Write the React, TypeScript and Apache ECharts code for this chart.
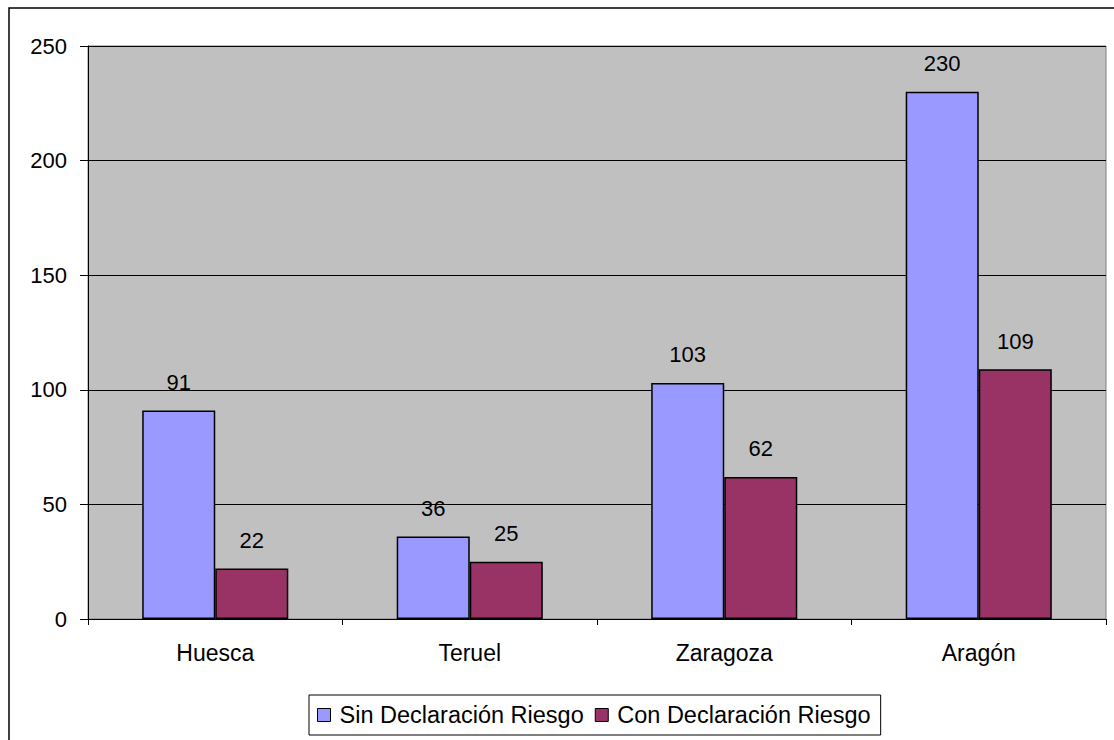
import React, { useEffect, useRef } from "react";
import * as echarts from "echarts";

const categories = ["Huesca", "Teruel", "Zaragoza", "Aragón"];
const sinDeclaracion = [91, 36, 103, 230];
const conDeclaracion = [22, 25, 62, 109];
const seriesNames = ["Sin Declaración Riesgo", "Con Declaración Riesgo"];

const FONT = "'Liberation Sans', Arial, sans-serif";

export default function App() {
  const ref = useRef<HTMLDivElement>(null);
  useEffect(() => {
    document.body.style.margin = "0";
    const chart = echarts.init(ref.current!, null, { renderer: "svg" });
    const label = {
      show: true,
      position: "top",
      distance: 17,
      color: "#000",
      fontSize: 22,
      fontFamily: FONT,
    };
    chart.setOption({
      animation: false,
      backgroundColor: "#fff",
      textStyle: { fontFamily: FONT },
      graphic: [
        {
          type: "rect",
          shape: { x: 9, y: 8, width: 1200, height: 800 },
          style: { fill: "none", stroke: "#000", lineWidth: 1.5 },
          silent: true,
        },
      ],
      grid: {
        left: 88,
        top: 46,
        right: 8,
        bottom: 121,
        show: true,
        backgroundColor: "#C0C0C0",
        borderColor: "#808080",
        borderWidth: 1,
      },
      legend: {
        bottom: 5,
        left: 309,
        data: seriesNames,
        icon: "rect",
        itemWidth: 13,
        itemHeight: 13,
        itemGap: 11,
        borderColor: "#000",
        borderWidth: 1,
        padding: [8, 10, 8, 8],
        itemStyle: { borderColor: "#000", borderWidth: 1 },
        textStyle: { fontSize: 23.5, fontFamily: FONT, color: "#000", padding: [0, 0, 0, 4] },
      },
      xAxis: {
        type: "category",
        data: categories,
        axisLine: { lineStyle: { color: "#000", width: 1 } },
        axisTick: { show: true, length: 6, lineStyle: { color: "#000" } },
        axisLabel: { fontSize: 23, color: "#000", margin: 22, fontFamily: FONT },
      },
      yAxis: {
        type: "value",
        min: 0,
        max: 250,
        interval: 50,
        axisLine: { show: true, lineStyle: { color: "#000", width: 1 } },
        axisTick: { show: true, length: 8, lineStyle: { color: "#000" } },
        axisLabel: { fontSize: 22, color: "#000", margin: 21, fontFamily: FONT },
        splitLine: { show: true, lineStyle: { color: "#000", width: 1 } },
      },
      series: [
        {
          name: seriesNames[0],
          type: "bar",
          data: sinDeclaracion,
          barWidth: "28.7%",
          barGap: "0%",
          itemStyle: { color: "#9999FF", borderColor: "#000", borderWidth: 1.5 },
          label,
        },
        {
          name: seriesNames[1],
          type: "bar",
          data: conDeclaracion,
          barWidth: "28.7%",
          barGap: "0%",
          itemStyle: { color: "#993366", borderColor: "#000", borderWidth: 1.5 },
          label,
        },
      ],
    });
    return () => chart.dispose();
  }, []);
  return <div ref={ref} style={{ width: 1114, height: 740 }} />;
}
